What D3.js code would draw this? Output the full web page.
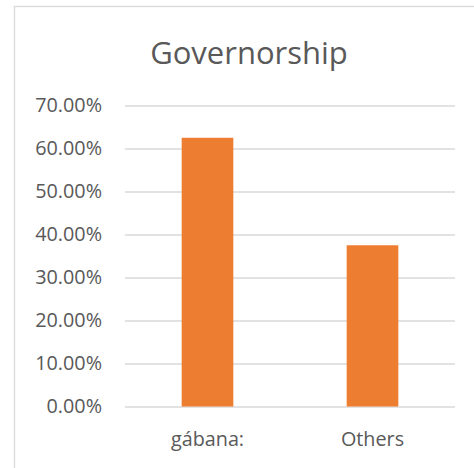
<!DOCTYPE html>
<html>
<head>
<meta charset="utf-8">
<script src="https://cdn.jsdelivr.net/npm/d3@7"></script>
<style>
  html, body { margin: 0; padding: 0; background: #fff; }
  svg { display: block; }
</style>
</head>
<body>
<svg id="chart" width="474" height="468"></svg>
<script>
const title = "Governorship";
const categories = ["gábana:", "Others"];
const shares = [0.625, 0.375];
const tickValues = [0, 0.1, 0.2, 0.3, 0.4, 0.5, 0.6, 0.7];

const svg = d3.select("#chart");
const W = 474, H = 468;
const font = "'Open Sans', sans-serif";
const textColor = "#595959";

// chart frame (continues past the right and bottom edges)
svg.append("rect")
  .attr("x", 14.5).attr("y", 6.5)
  .attr("width", W + 20).attr("height", H + 20)
  .attr("fill", "#fff")
  .attr("stroke", "#d9d9d9").attr("stroke-width", 1.3);

const plot = { left: 125, right: 455, top: 105.5, bottom: 406.5 };

const x = d3.scaleBand()
  .domain(categories)
  .range([plot.left, plot.right])
  .paddingInner(0.687)
  .paddingOuter(0.3435);

const y = d3.scaleLinear()
  .domain([0, 0.7])
  .range([plot.bottom, plot.top]);

// title
svg.append("text")
  .attr("x", 249).attr("y", 64)
  .attr("text-anchor", "middle")
  .attr("font-family", font)
  .attr("font-size", 31)
  .attr("fill", textColor)
  .text(title);

// gridlines + y labels via axis
const yAxis = d3.axisLeft(y)
  .tickValues(tickValues)
  .tickSize(-(plot.right - plot.left))
  .tickPadding(23)
  .tickFormat(d3.format(".2%"));

const gy = svg.append("g")
  .attr("transform", `translate(${plot.left},0)`)
  .call(yAxis);
gy.select(".domain").remove();
gy.selectAll(".tick line")
  .attr("stroke", "#d9d9d9").attr("stroke-width", 1.3);
gy.selectAll(".tick text")
  .attr("font-family", font)
  .attr("font-size", 19.8)
  .attr("fill", textColor);

// bars
svg.append("g")
  .selectAll("rect")
  .data(categories)
  .join("rect")
  .attr("x", (d) => x(d))
  .attr("width", x.bandwidth())
  .attr("y", (d, i) => y(shares[i]))
  .attr("height", (d, i) => y(0) - y(shares[i]))
  .attr("fill", "#ed7d31");

// x axis labels
const gx = svg.append("g")
  .attr("transform", `translate(0,${plot.bottom})`)
  .call(d3.axisBottom(x).tickSize(0).tickPadding(25));
gx.select(".domain").remove();
gx.selectAll(".tick text")
  .attr("font-family", font)
  .attr("font-size", 19.8)
  .attr("fill", textColor);
</script>
</body>
</html>
